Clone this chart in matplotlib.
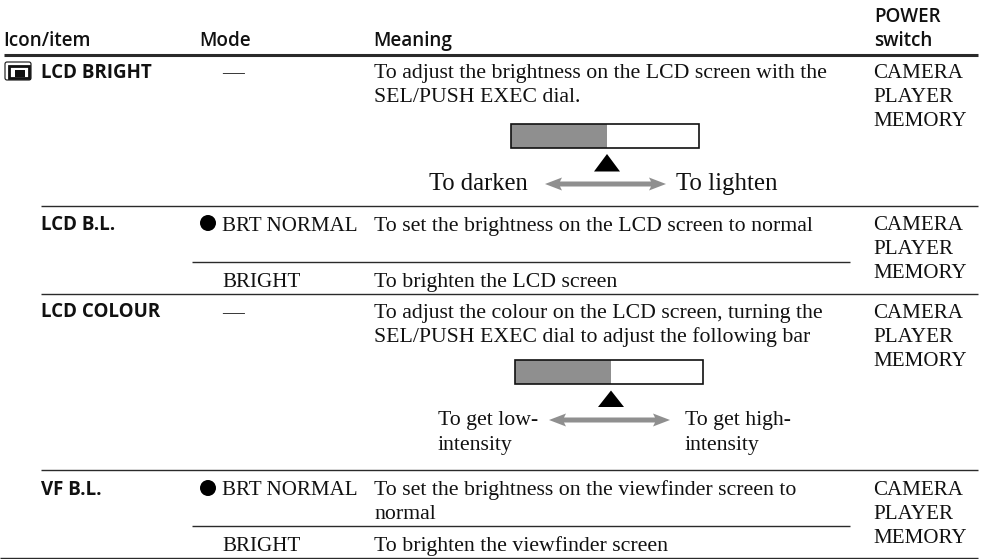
import matplotlib
matplotlib.use("Agg")
import matplotlib.pyplot as plt
from matplotlib.patches import Rectangle, Polygon, FancyBboxPatch

SANS = "Open Sans"
SERIF = "Liberation Serif"
INK = "#111111"
RULE = "#2a2a2a"
GREY = "#8f8f8f"

headers = ["Icon/item", "Mode", "Meaning"]
power_header = ["POWER", "switch"]
items = ["LCD BRIGHT", "LCD B.L.", "LCD COLOUR", "VF B.L."]
modes = ["—", "BRT NORMAL", "BRIGHT", "—", "BRT NORMAL", "BRIGHT"]
meaning_1 = ["To adjust the brightness on the LCD screen with the", "SEL/PUSH EXEC dial."]
meaning_2 = "To set the brightness on the LCD screen to normal"
meaning_3 = "To brighten the LCD screen"
meaning_4 = ["To adjust the colour on the LCD screen, turning the",
             "SEL/PUSH EXEC dial to adjust the following bar"]
meaning_5 = ["To set the brightness on the viewfinder screen to", "normal"]
meaning_6 = "To brighten the viewfinder screen"
power = ["CAMERA", "PLAYER", "MEMORY"]
bar_fill = 0.51

fig = plt.figure(figsize=(9.81, 5.59), dpi=100)
ax = fig.add_axes([0, 0, 1, 1])
ax.set_xlim(0, 981)
ax.set_ylim(559, 0)
ax.axis("off")


def sans(x, y, s, size=13.5, weight="bold"):
    ax.text(x, y, s, family=SANS, weight=weight, fontsize=size, color=INK, va="baseline")


def serif(x, y, s, size=15.7, ha="left"):
    ax.text(x, y, s, family=SERIF, fontsize=size, color=INK, va="baseline", ha=ha)


def rule(x0, x1, y, lw=1.0):
    ax.plot([x0, x1], [y, y], color=RULE, lw=lw, solid_capstyle="butt")


def slider(x0, y0, w, h, x_tri, tri_top, tri_bot):
    ax.add_patch(Rectangle((x0, y0), w * bar_fill, h, fc=GREY, ec="none"))
    ax.add_patch(Rectangle((x0, y0), w, h, fc="none", ec=INK, lw=1.2))
    ax.add_patch(Polygon([[x_tri - 13, tri_bot], [x_tri + 13, tri_bot], [x_tri, tri_top]], fc="black", ec="none"))


def arrow(x0, x1, y):
    # double headed grey arrow, heads slightly swept back
    hl, hw, sw, n = 17, 6.5, 2.5, 2
    ax.add_patch(Polygon([[x0, y], [x0 + hl, y - hw], [x0 + hl - n, y - sw], [x1 - hl + n, y - sw],
                          [x1 - hl, y - hw], [x1, y], [x1 - hl, y + hw], [x1 - hl + n, y + sw],
                          [x0 + hl - n, y + sw], [x0 + hl, y + hw]], fc=GREY, ec="none"))


# header
for x, s in zip([3.5, 199.5, 373.5], headers):
    sans(x, 45.7, s, weight="semibold", size=13.6)
sans(874.5, 22, power_header[0], weight="semibold", size=13.6)
sans(874.5, 46, power_header[1], weight="semibold", size=13.6)
rule(4, 978, 55, lw=2.2)

# icon
ax.add_patch(FancyBboxPatch((5, 62), 26, 18, boxstyle="round,pad=0,rounding_size=2", fc="white", ec=INK, lw=0.8))
ax.add_patch(Rectangle((8.5, 65.5), 20, 12.5, fc="white", ec=INK, lw=2.0))
ax.add_patch(Rectangle((15, 70), 10, 6.5, fc=INK, ec="none"))

# item column
sans(41, 78.3, items[0])
sans(41, 229.7, items[1])
sans(41, 317.3, items[2])
sans(41, 494.7, items[3])

# mode column
serif(222, 78, modes[0])
ax.add_patch(plt.Circle((208, 223), 8, fc="black", ec="none"))
serif(222, 230.7, modes[1], size=15.1)
serif(222, 286.7, modes[2], size=15.1)
serif(222, 318.4, modes[3])
ax.add_patch(plt.Circle((208, 488), 8, fc="black", ec="none"))
serif(222, 495, modes[4], size=15.1)
serif(222, 551, modes[5], size=15.1)

# meaning column
serif(374, 78, meaning_1[0])
serif(374, 102, meaning_1[1])
slider(511, 123.5, 188, 24, 607, 154, 171.5)
serif(528, 190, "To darken", size=17.7, ha="right")
arrow(545, 666, 184)
serif(676, 190, "To lighten", size=17.9)
serif(374, 230.7, meaning_2)
serif(374, 286.7, meaning_3)
serif(374, 318.4, meaning_4[0])
serif(374, 342.3, meaning_4[1])
slider(515, 359.5, 188, 24, 611, 390.5, 407)
serif(438, 425, "To get low-")
serif(438, 450, "intensity")
arrow(549, 670, 420)
serif(685, 425, "To get high-")
serif(685, 450, "intensity")
serif(374, 495, meaning_5[0])
serif(374, 519, meaning_5[1])
serif(374, 551, meaning_6)

# power column
for y0 in [78, 230.5, 318, 495]:
    for k, s in enumerate(power):
        serif(873, y0 + k * 24, s, size=15.1)

# rules
rule(41, 978, 205.5)
rule(192, 850, 261.5)
rule(41, 978, 294)
rule(41, 978, 470)
rule(192, 850, 526)
rule(0, 978, 557.7)

fig.savefig("out.png", dpi=100)
